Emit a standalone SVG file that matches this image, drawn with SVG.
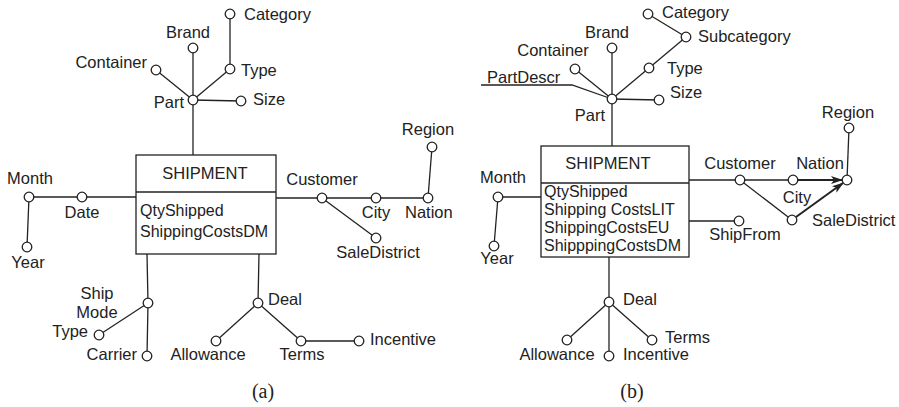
<svg xmlns="http://www.w3.org/2000/svg" width="899" height="407" viewBox="0 0 899 407">
<style>
text{font-family:"Liberation Sans",Arial,sans-serif;font-size:16.5px;fill:#222}
.bx{font-size:16px}
.cap{font-family:"Liberation Serif","DejaVu Serif",serif;font-size:20px}
.ln{stroke:#222;stroke-width:1.3;fill:none}
.ar{stroke:#222;stroke-width:2;fill:none}
.c{fill:#fff;stroke:#222;stroke-width:1.3}
.box{fill:#fff;stroke:#222;stroke-width:1.3}
.m{text-anchor:middle}
.e{text-anchor:end}
</style>
<defs>
<marker id="arr" viewBox="0 0 12 8" refX="11" refY="4" markerWidth="12" markerHeight="8" markerUnits="userSpaceOnUse" orient="auto">
<path d="M0,0 L12,4 L0,8 L3,4 Z" fill="#222"/>
</marker>
</defs>
<g id="connectors">
<line class="ln" x1="193" y1="100" x2="193" y2="48"/>
<line class="ln" x1="193" y1="100" x2="156" y2="70"/>
<line class="ln" x1="193" y1="100" x2="230" y2="69"/>
<line class="ln" x1="230" y1="69" x2="230" y2="14"/>
<line class="ln" x1="193" y1="100" x2="241" y2="101"/>
<line class="ln" x1="193" y1="100" x2="193" y2="155"/>
<line class="ln" x1="29" y1="197" x2="136" y2="197"/>
<line class="ln" x1="29" y1="197" x2="27" y2="247"/>
<line class="ln" x1="276" y1="198" x2="428" y2="198"/>
<line class="ln" x1="322" y1="198" x2="376" y2="238"/>
<line class="ln" x1="428" y1="198" x2="432" y2="147"/>
<line class="ln" x1="147" y1="254" x2="148" y2="303"/>
<line class="ln" x1="148" y1="303" x2="147" y2="356"/>
<line class="ln" x1="148" y1="303" x2="99" y2="335"/>
<line class="ln" x1="259" y1="254" x2="258" y2="303"/>
<line class="ln" x1="258" y1="303" x2="216" y2="341"/>
<line class="ln" x1="258" y1="303" x2="301" y2="341"/>
<line class="ln" x1="301" y1="341" x2="359" y2="341"/>
<line class="ln" x1="612" y1="99" x2="612" y2="48"/>
<line class="ln" x1="612" y1="99" x2="575" y2="69"/>
<line class="ln" x1="612" y1="99" x2="649" y2="68"/>
<line class="ln" x1="649" y1="68" x2="686" y2="37"/>
<line class="ln" x1="686" y1="37" x2="648" y2="14"/>
<line class="ln" x1="612" y1="99" x2="659" y2="100"/>
<line class="ln" x1="612" y1="99" x2="612" y2="146"/>
<polyline class="ln" points="481,85 572,85 612,99"/>
<line class="ln" x1="498" y1="197" x2="541" y2="197"/>
<line class="ln" x1="498" y1="197" x2="494" y2="246"/>
<line class="ln" x1="689" y1="180" x2="793" y2="180"/>
<line class="ln" x1="740" y1="180" x2="792" y2="220"/>
<line class="ar" x1="797" y1="180" x2="842" y2="180" marker-end="url(#arr)"/>
<line class="ar" x1="796" y1="217" x2="843" y2="183" marker-end="url(#arr)"/>
<line class="ln" x1="847" y1="180" x2="849" y2="128"/>
<line class="ln" x1="689" y1="221" x2="739" y2="221"/>
<line class="ln" x1="609" y1="257" x2="609" y2="302"/>
<line class="ln" x1="609" y1="302" x2="567" y2="340"/>
<line class="ln" x1="609" y1="302" x2="609" y2="356"/>
<line class="ln" x1="609" y1="302" x2="652" y2="340"/>
</g>
<g id="a-shipment">
<rect class="box" x="136" y="155" width="140" height="99"/>
<line class="ln" x1="136" y1="192" x2="276" y2="192"/>
<text class="m" x="205" y="179">SHIPMENT</text>
<text class="bx" x="140" y="216">QtyShipped</text>
<text class="bx" x="140" y="237">ShippingCostsDM</text>
</g>
<g id="a-part"><circle class="c" cx="193" cy="100" r="4.8"/><text class="e" x="184" y="108">Part</text></g>
<g id="a-brand"><circle class="c" cx="193" cy="48" r="4.8"/><text class="m" x="188" y="38">Brand</text></g>
<g id="a-container"><circle class="c" cx="156" cy="70" r="4.8"/><text class="e" x="147" y="68">Container</text></g>
<g id="a-type"><circle class="c" cx="230" cy="69" r="4.8"/><text x="241" y="76">Type</text></g>
<g id="a-category"><circle class="c" cx="230" cy="14" r="4.8"/><text x="244" y="20">Category</text></g>
<g id="a-size"><circle class="c" cx="241" cy="101" r="4.8"/><text x="253" y="105">Size</text></g>
<g id="a-month"><circle class="c" cx="29" cy="197" r="4.8"/><text class="m" x="30" y="184">Month</text></g>
<g id="a-date"><circle class="c" cx="82" cy="197" r="4.8"/><text class="m" x="82" y="218">Date</text></g>
<g id="a-year"><circle class="c" cx="27" cy="247" r="4.8"/><text class="m" x="28" y="268">Year</text></g>
<g id="a-customer"><circle class="c" cx="322" cy="198" r="4.8"/><text class="m" x="322" y="185">Customer</text></g>
<g id="a-city"><circle class="c" cx="376" cy="198" r="4.8"/><text class="m" x="376" y="218">City</text></g>
<g id="a-nation"><circle class="c" cx="428" cy="198" r="4.8"/><text x="405" y="218">Nation</text></g>
<g id="a-region"><circle class="c" cx="432" cy="147" r="4.8"/><text class="m" x="428" y="135">Region</text></g>
<g id="a-saledistrict"><circle class="c" cx="376" cy="238" r="4.8"/><text class="m" x="378" y="258">SaleDistrict</text></g>
<g id="a-shipmode"><circle class="c" cx="148" cy="303" r="4.8"/><text class="m" x="97" y="299">Ship</text><text class="m" x="97" y="318">Mode</text></g>
<g id="a-type2"><circle class="c" cx="99" cy="335" r="4.8"/><text class="e" x="88" y="337">Type</text></g>
<g id="a-carrier"><circle class="c" cx="147" cy="356" r="4.8"/><text class="e" x="137" y="360">Carrier</text></g>
<g id="a-deal"><circle class="c" cx="258" cy="303" r="4.8"/><text x="268" y="305">Deal</text></g>
<g id="a-allowance"><circle class="c" cx="216" cy="341" r="4.8"/><text class="m" x="208" y="360">Allowance</text></g>
<g id="a-terms"><circle class="c" cx="301" cy="341" r="4.8"/><text class="m" x="302" y="360">Terms</text></g>
<g id="a-incentive"><circle class="c" cx="359" cy="341" r="4.8"/><text x="370" y="345">Incentive</text></g>
<text class="cap m" x="263" y="398">(a)</text>
<g id="b-shipment">
<rect class="box" x="541" y="146" width="148" height="111"/>
<line class="ln" x1="541" y1="183" x2="689" y2="183"/>
<text class="m" x="608" y="169">SHIPMENT</text>
<text class="bx" x="544" y="197">QtyShipped</text>
<text class="bx" x="544" y="215">Shipping CostsLIT</text>
<text class="bx" x="544" y="233">ShippingCostsEU</text>
<text class="bx" x="544" y="251">ShipppingCostsDM</text>
</g>
<g id="b-part"><circle class="c" cx="612" cy="99" r="4.8"/><text class="m" x="590" y="121">Part</text></g>
<g id="b-brand"><circle class="c" cx="612" cy="48" r="4.8"/><text class="m" x="607" y="38">Brand</text></g>
<g id="b-container"><circle class="c" cx="575" cy="69" r="4.8"/><text class="m" x="553" y="56">Container</text></g>
<g id="b-type"><circle class="c" cx="649" cy="68" r="4.8"/><text x="667" y="74">Type</text></g>
<g id="b-subcategory"><circle class="c" cx="686" cy="37" r="4.8"/><text x="698" y="42">Subcategory</text></g>
<g id="b-category"><circle class="c" cx="648" cy="14" r="4.8"/><text x="662" y="18">Category</text></g>
<g id="b-size"><circle class="c" cx="659" cy="100" r="4.8"/><text x="670" y="98">Size</text></g>
<g id="b-partdescr"><text x="487" y="83">PartDescr</text></g>
<g id="b-month"><circle class="c" cx="498" cy="197" r="4.8"/><text class="m" x="503" y="183">Month</text></g>
<g id="b-year"><circle class="c" cx="494" cy="246" r="4.8"/><text class="m" x="497" y="264">Year</text></g>
<g id="b-customer"><circle class="c" cx="740" cy="180" r="4.8"/><text class="m" x="740" y="169">Customer</text></g>
<g id="b-nation"><circle class="c" cx="793" cy="180" r="4.8"/><text class="m" x="820" y="169">Nation</text></g>
<g id="b-city"><circle class="c" cx="792" cy="220" r="4.8"/><text class="m" x="797" y="203">City</text></g>
<g id="b-saledistrict"><circle class="c" cx="847" cy="180" r="4.8"/><text x="812" y="226">SaleDistrict</text></g>
<g id="b-region"><circle class="c" cx="849" cy="128" r="4.8"/><text class="m" x="848" y="118">Region</text></g>
<g id="b-shipfrom"><circle class="c" cx="739" cy="221" r="4.8"/><text class="m" x="745" y="240">ShipFrom</text></g>
<g id="b-deal"><circle class="c" cx="609" cy="302" r="4.8"/><text x="623" y="305">Deal</text></g>
<g id="b-allowance"><circle class="c" cx="567" cy="340" r="4.8"/><text class="m" x="557" y="360">Allowance</text></g>
<g id="b-incentive"><circle class="c" cx="609" cy="356" r="4.8"/><text x="623" y="360">Incentive</text></g>
<g id="b-terms"><circle class="c" cx="652" cy="340" r="4.8"/><text x="665" y="343">Terms</text></g>
<text class="cap m" x="632" y="398">(b)</text>
</svg>
